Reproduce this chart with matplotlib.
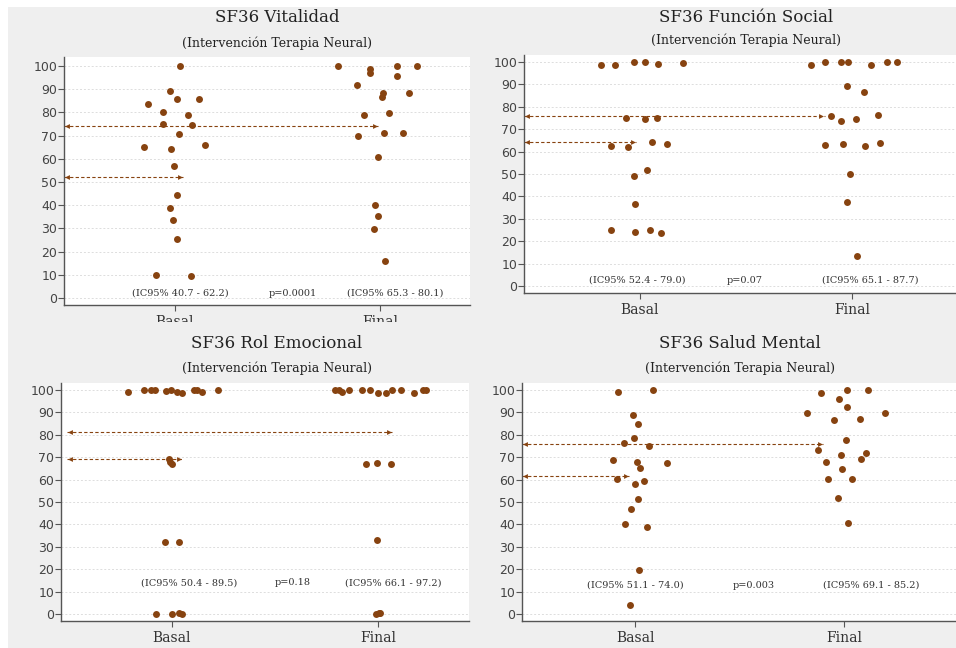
import matplotlib.pyplot as plt
from matplotlib.patches import Rectangle

# SF36 dimensiones, Basal (x=1) vs Final (x=2)
titles = ["SF36 Vitalidad", "SF36 Función Social", "SF36 Rol Emocional", "SF36 Salud Mental"]
subtitle = "(Intervención Terapia Neural)"
groups = ["Basal", "Final"]

vit_basal_x = [1.024, 0.867, 0.977, 0.943, 1.010, 1.115, 1.062, 0.940, 1.085, 1.018,
               0.849, 0.979, 1.145, 0.995, 1.010, 0.977, 0.992, 1.011, 0.907, 1.078]
vit_basal_y = [99.9, 83.5, 89.1, 80.1, 85.7, 86.0, 78.8, 74.9, 74.5, 70.5,
               65.0, 64.2, 66.0, 56.9, 44.3, 39.0, 33.7, 25.4, 10.0, 9.6]
vit_final_x = [1.793, 1.950, 1.950, 2.081, 2.182, 2.081, 1.886, 2.016, 2.010, 2.141,
               1.922, 2.044, 1.894, 2.021, 2.111, 1.990, 1.976, 1.989, 1.972, 2.023]
vit_final_y = [100.0, 98.6, 96.8, 100.0, 100.0, 95.6, 91.7, 88.5, 86.7, 88.5,
               78.8, 79.9, 69.9, 71.1, 71.2, 60.6, 40.1, 35.2, 29.9, 15.8]

soc_basal_x = [0.818, 0.882, 0.973, 1.025, 1.085, 1.202, 0.933, 1.022, 1.078, 0.865,
               0.942, 1.055, 1.127, 0.972, 1.031, 0.978, 0.864, 0.978, 1.047, 1.100]
soc_basal_y = [98.7, 98.5, 99.9, 99.9, 99.0, 99.7, 75.0, 74.5, 75.0, 62.7,
               62.1, 64.1, 63.5, 49.3, 51.7, 36.7, 24.9, 24.3, 25.2, 23.5]
soc_final_x = [1.804, 1.870, 1.948, 1.983, 2.088, 2.165, 2.212, 1.978, 2.056, 1.901,
               1.948, 2.020, 2.121, 1.870, 1.958, 2.061, 2.130, 1.992, 1.975, 2.025]
soc_final_y = [98.5, 99.9, 99.9, 99.9, 98.7, 99.9, 99.9, 89.4, 86.4, 76.0,
               73.8, 74.7, 76.3, 62.9, 63.3, 62.7, 63.8, 50.1, 37.7, 13.4]

emo_basal_x = [0.787, 0.863, 0.898, 0.919, 0.973, 0.995, 1.026, 1.050, 1.105, 1.121,
               1.145, 1.224, 0.984, 0.992, 1.000, 0.965, 1.032, 0.923, 1.000, 1.035, 1.050]
emo_basal_y = [99.3, 100.0, 100.0, 100.0, 99.7, 100.0, 99.0, 98.8, 100.0, 100.0,
               99.3, 99.9, 69.0, 68.0, 67.0, 32.0, 32.3, 0.1, 0.1, 0.3, 0.1]
emo_final_x = [1.790, 1.810, 1.827, 1.860, 1.923, 1.960, 2.002, 2.037, 2.069, 2.111,
               2.177, 2.218, 2.231, 1.944, 1.995, 2.065, 1.994, 1.992, 2.003, 2.008]
emo_final_y = [100.0, 100.0, 99.1, 99.9, 100.0, 100.0, 98.8, 98.8, 100.0, 100.0,
               98.8, 100.0, 100.0, 67.0, 67.6, 67.0, 33.2, 0.0, 0.3, 0.6]

men_basal_x = [0.920, 1.088, 0.992, 1.013, 0.995, 0.947, 1.065, 0.896, 1.008, 1.152,
               1.024, 0.915, 1.000, 1.045, 1.013, 0.982, 0.952, 1.059, 1.018, 0.976]
men_basal_y = [99.1, 99.9, 89.0, 84.8, 78.6, 76.2, 74.9, 68.9, 68.0, 67.6,
               65.0, 60.1, 58.0, 59.2, 51.3, 47.0, 40.3, 38.7, 19.6, 4.0]
men_final_x = [1.823, 1.888, 2.016, 2.116, 1.978, 2.016, 1.952, 2.077, 2.198, 2.008,
               1.877, 1.984, 2.105, 1.914, 2.081, 1.990, 1.925, 2.037, 1.970, 2.021]
men_final_y = [89.6, 98.8, 100.1, 100.1, 96.1, 92.6, 86.6, 86.9, 89.7, 77.7,
               73.1, 71.0, 71.9, 68.0, 69.0, 64.6, 60.1, 60.1, 51.9, 40.8]

# medias (flechas) y hasta donde llega cada flecha
mean_basal = [52.0, 64.3, 69.3, 61.6]
mean_final = [74.0, 76.0, 81.4, 75.7]
arrow_end_basal = [1.04, 0.98, 1.05, 0.97]
arrow_end_final = [1.99, 1.87, 2.07, 1.90]

ic_basal = ["(IC95% 40.7 - 62.2)", "(IC95% 52.4 - 79.0)", "(IC95% 50.4 - 89.5)", "(IC95% 51.1 - 74.0)"]
ic_final = ["(IC95% 65.3 - 80.1)", "(IC95% 65.1 - 87.7)", "(IC95% 66.1 - 97.2)", "(IC95% 69.1 - 85.2)"]
p_values = ["p=0.0001", "p=0.07", "p=0.18", "p=0.003"]
ic_xpos = [(1.024, 2.076, 1.577), (0.987, 2.085, 1.494), (1.084, 2.073, 1.588), (1.0, 2.132, 1.566)]
ic_ypos = [2.1, 2.7, 14.0, 12.8]

yticks = list(range(0, 101, 10))

BROWN = "#874310"
GRAY_BG = "#efefef"

fig = plt.figure(figsize=(9.56, 6.48), dpi=100, facecolor="white")
W, H = 956, 648

def fx(px):
    return px / W

def fy(py):
    return 1 - py / H

# fondo gris general
fig.patches.append(Rectangle((fx(8), 0), 1, fy(7), transform=fig.transFigure,
                             facecolor=GRAY_BG, edgecolor="none", zorder=-5))

# posicion de cada panel en px: left, right, top, bottom, ylim, xlim
boxes = [
    (64, 470, 57, 305, (-3.0, 103.9), (0.459, 2.439)),
    (524, 956, 55, 293, (-3.1, 103.1), (0.453, 2.49)),
    (61, 469, 383, 621, (-3.1, 103.1), (0.461, 2.442)),
    (522, 956, 383, 621, (-3.1, 103.1), (0.459, 2.536)),
]
title_y = [17, 17, 344, 344]
sub_y = [43, 40, 368, 368]
title_x = [277, 746, 277, 740]

data = [
    (vit_basal_x, vit_basal_y, vit_final_x, vit_final_y),
    (soc_basal_x, soc_basal_y, soc_final_x, soc_final_y),
    (emo_basal_x, emo_basal_y, emo_final_x, emo_final_y),
    (men_basal_x, men_basal_y, men_final_x, men_final_y),
]

for i in range(4):
    l, r, t, b, ylim, xlim = boxes[i]
    ax = fig.add_axes([fx(l), fy(b), fx(r - l), (b - t) / H])
    ax.set_zorder(2 if i >= 2 else 0)
    ax.set_facecolor("white")
    ax.set_xlim(*xlim)
    ax.set_ylim(*ylim)

    for s in ["top", "right"]:
        ax.spines[s].set_visible(False)
    for s in ["left", "bottom"]:
        ax.spines[s].set_color("#555555")
        ax.spines[s].set_linewidth(1.0)

    ax.set_yticks(yticks)
    ax.set_yticklabels([str(v) for v in yticks], fontsize=9, color="#444444",
                       family="DejaVu Sans")
    ax.set_xticks([1, 2])
    ax.set_xticklabels(groups, fontsize=10, color="#333333", family="DejaVu Serif")
    ax.tick_params(axis="y", length=4, width=0.8, color="#555555", pad=1)
    ax.tick_params(axis="x", length=4, width=0.8, color="#555555", pad=3)
    ax.yaxis.grid(True, linestyle=(0, (2, 2)), color="#dddddd", linewidth=0.7)
    ax.set_axisbelow(True)

    bx, by, fxs, fys = data[i]
    ax.plot(bx, by, "o", color=BROWN, ms=5, mec="none", zorder=3)
    ax.plot(fxs, fys, "o", color=BROWN, ms=5, mec="none", zorder=3)

    # flechas de las medias
    x0 = xlim[0] + (0.03 if i == 2 else 0.0)
    for m, xe in [(mean_final[i], arrow_end_final[i]), (mean_basal[i], arrow_end_basal[i])]:
        ax.plot([x0, xe], [m, m], linestyle=(0, (3, 2)), color=BROWN, lw=0.8, zorder=2)
        ax.plot([x0 + 0.015], [m], marker="<", color=BROWN, ms=3.5, mec="none", zorder=2)
        ax.plot([xe - 0.015], [m], marker=">", color=BROWN, ms=3.5, mec="none", zorder=2)

    xb, xf, xp = ic_xpos[i]
    for xx, txt in [(xb, ic_basal[i]), (xf, ic_final[i]), (xp, p_values[i])]:
        ax.text(xx, ic_ypos[i], txt, ha="center", va="center", fontsize=7,
                family="DejaVu Serif", color="#333333")

    fig.text(fx(title_x[i]), fy(title_y[i]), titles[i], ha="center", va="center",
             fontsize=12, family="DejaVu Serif", color="#222222", zorder=3)
    fig.text(fx(title_x[i]), fy(sub_y[i]), subtitle, ha="center", va="center",
             fontsize=9, family="DejaVu Serif", color="#222222", zorder=3)

# el panel inferior izquierdo tapa parte de las etiquetas del superior
fig.patches.append(Rectangle((fx(8), 0), fx(478 - 8), fy(322), transform=fig.transFigure,
                             facecolor=GRAY_BG, edgecolor="none", zorder=1))

fig.savefig("out.png", dpi=100, facecolor="white")
